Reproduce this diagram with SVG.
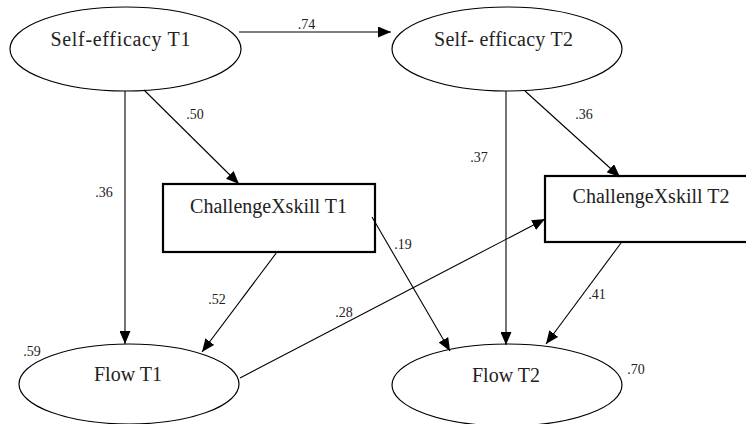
<svg xmlns="http://www.w3.org/2000/svg" width="746" height="424" viewBox="0 0 746 424">
<defs>
<marker id="ah" markerUnits="userSpaceOnUse" markerWidth="13" markerHeight="11" refX="13" refY="5.5" orient="auto">
<path d="M0,0 L13,5.5 L0,11 z" fill="#000"/>
</marker>
<style>
.node ellipse{fill:#fff;stroke:#000;stroke-width:1.2}
.node rect{fill:#fff;stroke:#000;stroke-width:2.2}
.nl{font-size:20px;fill:#222;text-anchor:middle}
.el{font-size:14px;fill:#222;text-anchor:middle}
.edges line{stroke:#000;stroke-width:1.1;marker-end:url(#ah)}
</style>
</defs>
<rect width="746" height="424" fill="#fff"/>
<g font-family="Liberation Serif, Times New Roman, DejaVu Serif, serif">
<g id="se1" class="node">
<ellipse cx="125.5" cy="49" rx="115.5" ry="42"/>
<text class="nl" x="120.5" y="46" textLength="140" lengthAdjust="spacing">Self-efficacy T1</text>
</g>
<g id="se2" class="node">
<ellipse cx="507" cy="49" rx="115" ry="42"/>
<text class="nl" x="503.5" y="46" textLength="139" lengthAdjust="spacing">Self- efficacy T2</text>
</g>
<g id="ch1" class="node">
<rect x="163" y="184" width="212" height="68"/>
<text class="nl" x="268.5" y="213">ChallengeXskill T1</text>
</g>
<g id="ch2" class="node">
<rect x="545" y="176" width="212" height="66"/>
<text class="nl" x="651" y="203">ChallengeXskill T2</text>
</g>
<g id="f1" class="node">
<ellipse cx="129" cy="384" rx="110" ry="40"/>
<text class="nl" x="128" y="381">Flow T1</text>
</g>
<g id="f2" class="node">
<ellipse cx="507" cy="385" rx="115" ry="41"/>
<text class="nl" x="506" y="382">Flow T2</text>
</g>
<g id="edges" class="edges">
<line x1="239" y1="32" x2="391" y2="32"/>
<line x1="125" y1="91" x2="125" y2="344"/>
<line x1="144" y1="90" x2="239" y2="184"/>
<line x1="277" y1="252" x2="202" y2="352"/>
<line x1="240" y1="378" x2="545" y2="219"/>
<line x1="372" y1="217" x2="450" y2="351"/>
<line x1="506" y1="91" x2="506" y2="345"/>
<line x1="525" y1="91" x2="620" y2="177"/>
<line x1="621" y1="243" x2="546" y2="344"/>
</g>
<g id="labels">
<text class="el" x="306.5" y="29">.74</text>
<text class="el" x="104" y="197">.36</text>
<text class="el" x="195" y="119">.50</text>
<text class="el" x="217" y="304">.52</text>
<text class="el" x="344" y="317">.28</text>
<text class="el" x="403" y="249">.19</text>
<text class="el" x="479" y="162">.37</text>
<text class="el" x="584" y="119">.36</text>
<text class="el" x="597" y="299">.41</text>
<text class="el" x="32" y="356">.59</text>
<text class="el" x="636" y="374">.70</text>
</g>
</g>
</svg>
